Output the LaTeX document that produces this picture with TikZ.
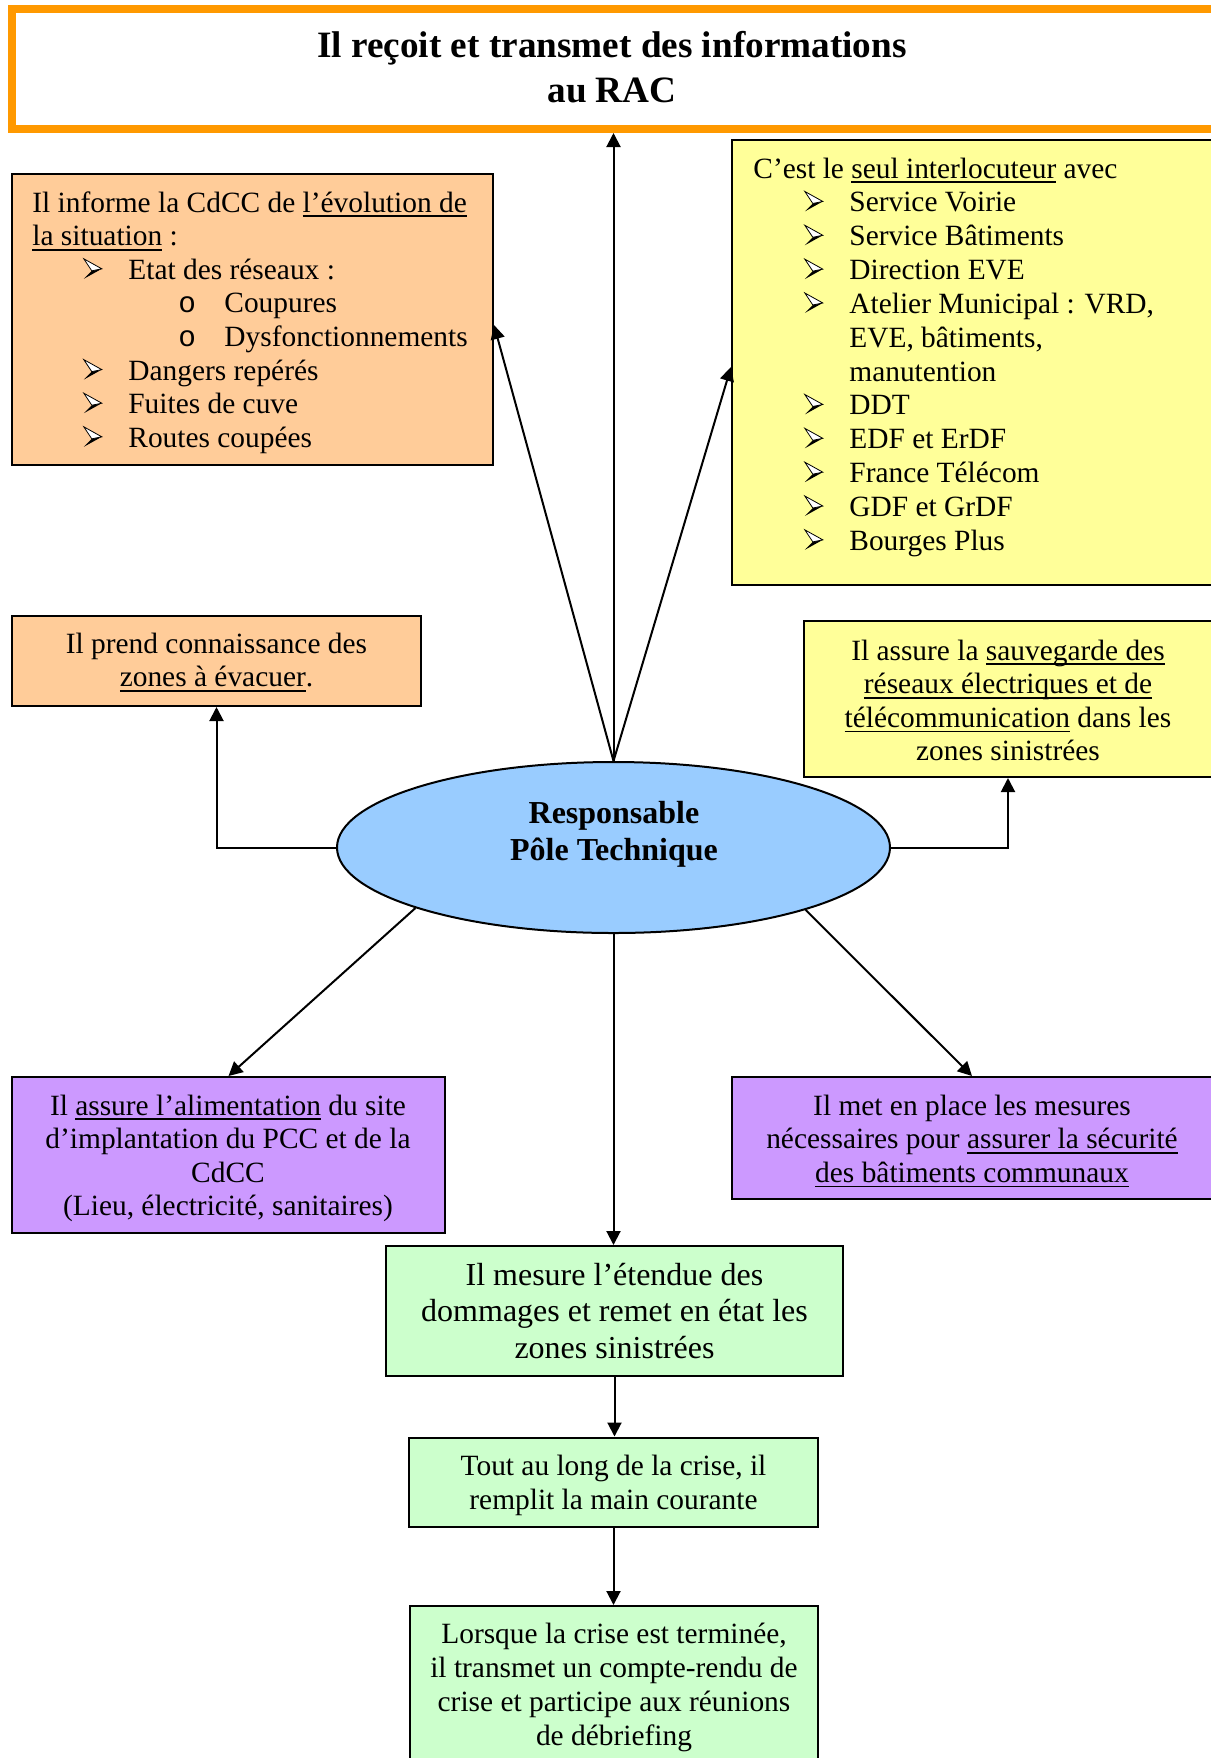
\documentclass[tikz,border=0pt]{standalone}
\usepackage{fontspec}
\setmainfont{Liberation Serif}
\newfontfamily\listmono{Liberation Mono}
\usetikzlibrary{arrows.meta, shapes.geometric}

\definecolor{frameorange}{HTML}{FF9900}
\definecolor{tanfill}{HTML}{FFCC99}
\definecolor{paleyellow}{HTML}{FFFF99}
\definecolor{lavender}{HTML}{CC99FF}
\definecolor{palegreen}{HTML}{CCFFCC}
\definecolor{skyblue}{HTML}{99CCFF}

% underlined words
\newcommand{\undl}[1]{\leavevmode{\setbox0=\hbox{#1}\rlap{\rule[-2.5pt]{\wd0}{0.8pt}}\box0}}
% 3-D arrowhead list marker: light upper half, dark lower half
\newcommand{\arrowhead}{\tikz[x=1pt,y=1pt,baseline=0pt,line width=0.4pt,line join=miter]{%
  \fill[black] (0,0.2) -- (9,5.2) -- (4,4.2) -- cycle;
  \draw[black, fill=white] (0,10.2) -- (9,5.2) -- (4,4.2) -- cycle;}}
\newcommand{\arrbul}{\leavevmode\hspace*{25.5pt}\makebox[22.5pt][l]{\arrowhead}}
\newcommand{\subbul}{\leavevmode\hspace*{73pt}\makebox[23pt][l]{\listmono o}}
\newcommand{\contbul}{\leavevmode\hspace*{48pt}}

\tikzset{
  box/.style={draw=black, line width=1pt, rectangle, inner sep=0pt},
  txt/.style={inner sep=0pt, anchor=base},
  conn/.style={line width=1pt, -{Triangle[length=7pt,width=7pt]}},
  body/.style={font=\fontsize{14.7}{16.8}\selectfont},
  big/.style={font=\fontsize{16}{18.3}\selectfont},
}

\begin{document}
\begin{tikzpicture}[x=0.5pt,y=-0.5pt]
\useasboundingbox (0,0) rectangle (1211,1758);
\clip (0,0) rectangle (1211,1758);

% heading frame
\node[draw=frameorange, line width=4pt, fill=white, inner sep=0pt,
      minimum width=602pt, minimum height=60pt] (title) at (614,69) {};
\node[txt, font=\fontsize{18.6}{22.5}\selectfont\bfseries] (titletext) at (612,57)
  {\parbox[t]{330pt}{\centering Il reçoit et transmet des informations\\au RAC}};

% boxes
\node[box, fill=tanfill, minimum width=240.5pt, minimum height=145.5pt] (A) at (252.5,319.5) {};
\node[txt, body, anchor=base west] (Atext) at (32,212) {\parbox[t]{228pt}{\raggedright
  Il informe la CdCC de \undl{l’évolution de}\\
  \undl{la situation} :\\
  \arrbul Etat des réseaux :\\
  \subbul Coupures\\
  \subbul Dysfonctionnements\\
  \arrbul Dangers repérés\\
  \arrbul Fuites de cuve\\
  \arrbul Routes coupées}};

\node[box, fill=paleyellow, minimum width=243pt, minimum height=222.5pt] (B) at (975,362.5) {};
\node[txt, font=\fontsize{14.7}{16.92}\selectfont, anchor=base west] (Btext) at (753,178) {\parbox[t]{228pt}{\raggedright
  C’est le \undl{seul interlocuteur} avec\\
  \arrbul Service Voirie\\
  \arrbul Service Bâtiments\\
  \arrbul Direction EVE\\
  \arrbul Atelier Municipal : VRD,\\
  \contbul EVE, bâtiments,\\
  \contbul manutention\\
  \arrbul DDT\\
  \arrbul EDF et ErDF\\
  \arrbul France Télécom\\
  \arrbul GDF et GrDF\\
  \arrbul Bourges Plus}};

\node[box, fill=tanfill, minimum width=204.5pt, minimum height=45pt] (C) at (216.5,661) {};
\node[txt, body] (Ctext) at (216.5,653) {\parbox[t]{200pt}{\centering
  Il prend connaissance des\\\undl{zones à évacuer}.}};

\node[box, fill=paleyellow, minimum width=207pt, minimum height=78pt] (D) at (1010.5,699) {};
\node[txt, body] (Dtext) at (1008,660) {\parbox[t]{200pt}{\centering
  Il assure la \undl{sauvegarde des}\\
  \undl{réseaux électriques et de}\\
  \undl{télécommunication} dans les\\
  zones sinistrées}};

% central ellipse
\node[ellipse, draw=black, line width=1pt, fill=skyblue, inner sep=0pt,
      minimum width=276.5pt, minimum height=85.5pt] (ell) at (613.5,847.5) {};
\node[txt, font=\fontsize{16}{18.5}\selectfont\bfseries] (elltext) at (614,823)
  {\parbox[t]{200pt}{\centering Responsable\\Pôle Technique}};

\node[box, fill=lavender, minimum width=216.5pt, minimum height=78pt] (E) at (228.5,1155) {};
\node[txt, body] (Etext) at (228,1115) {\parbox[t]{210pt}{\centering
  Il \undl{assure l’alimentation} du site\\
  d’implantation du PCC et de la\\
  CdCC\\
  (Lieu, électricité, sanitaires)}};

\node[box, fill=lavender, minimum width=243pt, minimum height=61pt] (F) at (975,1138) {};
\node[txt, body] (Ftext) at (972,1115) {\parbox[t]{235pt}{\centering
  Il met en place les mesures\\
  nécessaires pour \undl{assurer la sécurité}\\
  \undl{des bâtiments communaux}}};

\node[box, fill=palegreen, minimum width=228.5pt, minimum height=65pt] (G) at (614.5,1311) {};
\node[txt, big] (Gtext) at (614.5,1285) {\parbox[t]{225pt}{\centering
  Il mesure l’étendue des\\
  dommages et remet en état les\\
  zones sinistrées}};

\node[box, fill=palegreen, minimum width=204.5pt, minimum height=44.5pt] (H) at (613.5,1482) {};
\node[txt, body] (Htext) at (613.5,1475.5) {\parbox[t]{200pt}{\centering
  Tout au long de la crise, il\\
  remplit la main courante}};

\node[box, fill=palegreen, minimum width=204pt, minimum height=85pt] (I) at (614,1691) {};
\node[txt, font=\fontsize{14.7}{17}\selectfont] (Itext) at (614,1643) {\parbox[t]{200pt}{\centering
  Lorsque la crise est terminée,\\
  il transmet un compte-rendu de\\
  crise et participe aux réunions\\
  de débriefing}};

% connectors
\draw[conn] (ell.north) -- (ell.north |- title.south);
\draw[conn] (ell.north) -- ([yshift=-2.75pt]A.east);
\draw[conn] (ell.north) -- ([yshift=-2.25pt]B.west);
\draw[conn] (ell.west) -| (C.south);
\draw[conn] (ell.east) -| ([xshift=-1.25pt]D.south);
\draw[conn] (ell.197.5) -- (E.north);
\draw[conn] (ell.342.9) -- ([xshift=-1.5pt]F.north);
\draw[conn] (ell.south) -- (ell.south |- G.north);
\draw[conn] (G.south) -- (G.south |- H.north);
\draw[conn] (H.south) -- (H.south |- I.north);
\end{tikzpicture}
\end{document}
